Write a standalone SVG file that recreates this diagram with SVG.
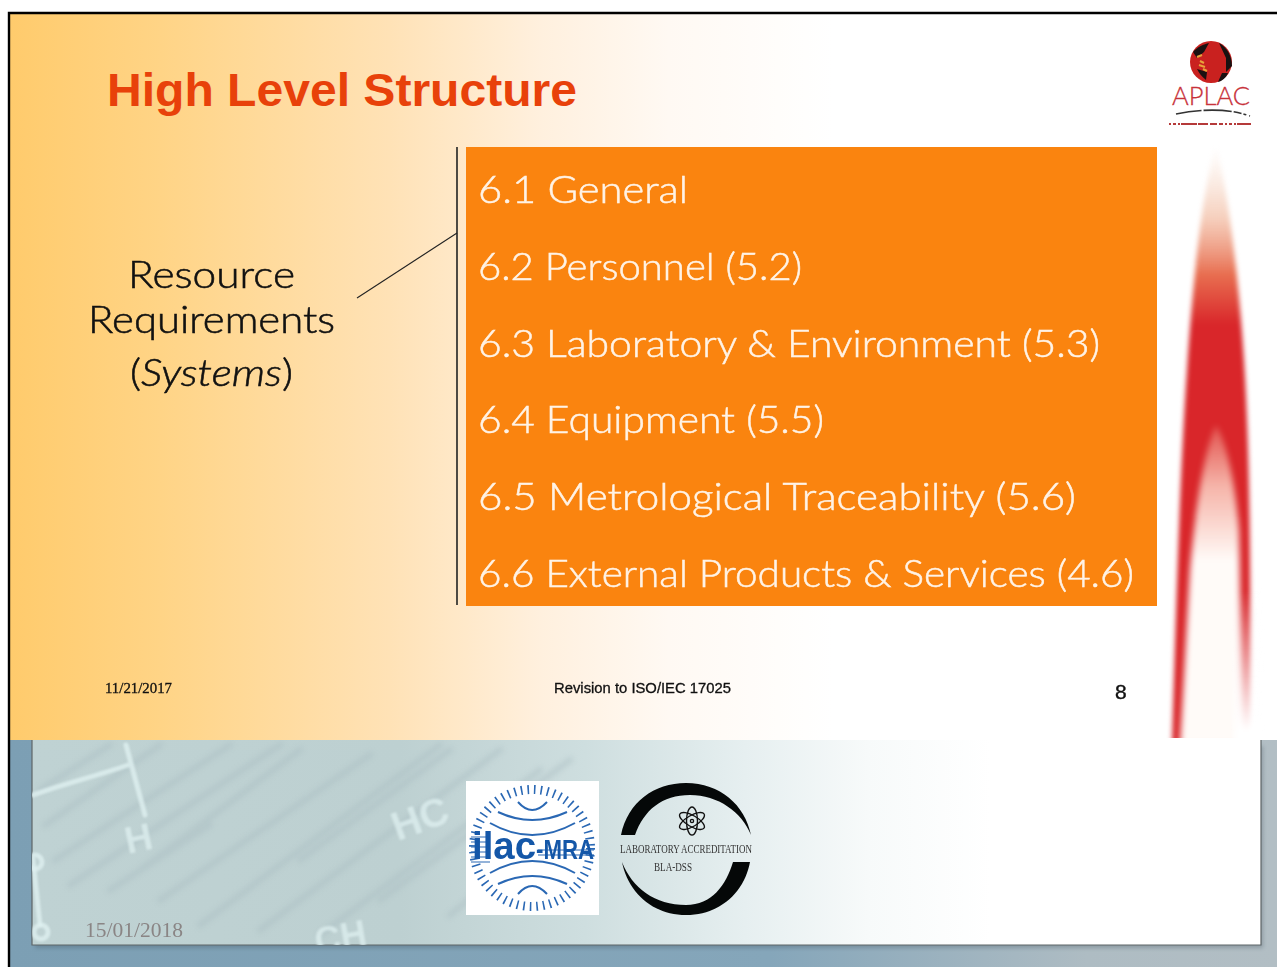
<svg xmlns="http://www.w3.org/2000/svg" width="1277" height="967" viewBox="0 0 1277 967">
<style>
.body{font-family:"Lato","Liberation Sans",sans-serif;font-weight:300;font-size:37px;fill:#FFF3E6;stroke:#FFF3E6;stroke-width:.5}
.side{font-family:"Lato","Liberation Sans",sans-serif;font-weight:300;font-size:37px;fill:#111;stroke:#111;stroke-width:.55}
.foot{font-family:"Liberation Sans",sans-serif;font-size:14px;fill:#111;stroke:#111;stroke-width:.3}
.chem{fill:none;stroke:#dff0f0;stroke-width:5;stroke-linecap:round;opacity:.8}
.chemt{font-family:"Liberation Sans",sans-serif;font-weight:700;fill:#dff0f0;opacity:.75}
.streak{stroke:#a9bdc2;stroke-width:6;opacity:.42;fill:none;stroke-linecap:round}
.band{fill:none;stroke:#2a68b4;stroke-width:2}
.serif{font-family:"Liberation Serif",serif}
filter{color-interpolation-filters:sRGB}
</style>
<defs>
<linearGradient id="slide" x1="0" x2="1" y1="0" y2="0">
<stop offset="0" stop-color="#FFCB6C"/><stop offset=".12" stop-color="#FFD486"/><stop offset=".3" stop-color="#FFE2B6"/><stop offset=".42" stop-color="#FFF0DE"/><stop offset=".52" stop-color="#FFF9F3"/><stop offset=".65" stop-color="#fff"/>
</linearGradient>
<linearGradient id="outer" x1="0" x2="1" y1="0" y2="0">
<stop offset="0" stop-color="#7C9FB4"/><stop offset=".6" stop-color="#85A6BA"/><stop offset=".85" stop-color="#AEBCC3"/><stop offset="1" stop-color="#B2BEC4"/>
</linearGradient>
<linearGradient id="panel" x1="32" x2="1261" y1="0" y2="0" gradientUnits="userSpaceOnUse">
<stop offset="0" stop-color="#BFD2D3"/><stop offset=".3" stop-color="#BDD0D1"/><stop offset=".45" stop-color="#CEDEDF"/><stop offset=".58" stop-color="#E6EFF0"/><stop offset=".68" stop-color="#F7FAFA"/><stop offset=".78" stop-color="#fff"/>
</linearGradient>
<linearGradient id="flame" gradientUnits="userSpaceOnUse" x1="0" x2="0" y1="145" y2="325">
<stop offset="0" stop-color="#F5D8C4" stop-opacity="0"/><stop offset=".4" stop-color="#F2BCA2" stop-opacity=".7"/><stop offset=".72" stop-color="#E86E50"/><stop offset="1" stop-color="#D9262A"/>
</linearGradient>
<linearGradient id="hollow" gradientUnits="userSpaceOnUse" x1="0" x2="0" y1="425" y2="560">
<stop offset="0" stop-color="#FFD8C0" stop-opacity=".25"/><stop offset=".45" stop-color="#FFE4D4" stop-opacity=".75"/><stop offset="1" stop-color="#FFFBF8"/>
</linearGradient>
<linearGradient id="fade" gradientUnits="userSpaceOnUse" x1="0" x2="0" y1="590" y2="730">
<stop offset="0" stop-color="#fff" stop-opacity="0"/><stop offset="1" stop-color="#fff"/>
</linearGradient>
<filter id="b2" x="-20%" y="-20%" width="140%" height="140%"><feGaussianBlur stdDeviation="2.5"/></filter>
<filter id="b3" x="-20%" y="-20%" width="140%" height="140%"><feGaussianBlur stdDeviation="3"/></filter>
<filter id="b1" x="-20%" y="-20%" width="140%" height="140%"><feGaussianBlur stdDeviation="1"/></filter>
<filter id="b0" x="-20%" y="-20%" width="140%" height="140%"><feGaussianBlur stdDeviation=".5"/></filter>
<filter id="s" x="-10%" y="-10%" width="120%" height="120%"><feGaussianBlur stdDeviation="2"/></filter>
<clipPath id="pc"><rect x="32" y="740" width="1229" height="205"/></clipPath>
<clipPath id="flamec"><rect x="1150" y="130" width="127" height="608"/></clipPath>
</defs>

<rect width="1277" height="967" fill="#fff"/>

<g id="lower-background">
<rect x="8" y="738" width="1269" height="229" fill="url(#outer)"/>
<rect x="35" y="746" width="1228" height="202" fill="#3a4a55" opacity=".3" filter="url(#s)"/>
<rect x="32" y="740" width="1229" height="205" fill="url(#panel)"/>
<path d="M32 740 V945 H1261 V740" fill="none" stroke="#5f6668" stroke-width="1.2"/>
<g clip-path="url(#pc)">
<g filter="url(#b2)">
<path class="streak" d="M40 790 L110 745M45 825 L160 745M55 860 L230 745M70 885 L280 745M110 890 L210 825M160 900 L370 755M200 925 L440 745M260 930 L500 750M320 935 L540 770M140 870 L300 750M380 900 L570 760M450 915 L590 800M300 860 L450 750"/>
</g>
<g filter="url(#b1)">
<path class="chem" d="M33 795 C60 785 100 775 128 765M126 745 L145 815M33 860 L40 925"/>
<circle cx="35" cy="862" r="7" class="chem"/>
<circle cx="41" cy="932" r="7" class="chem"/>
<text class="chemt" x="124" y="851" font-size="38" transform="rotate(-12 140 835)">H</text>
<text class="chemt" x="390" y="832" font-size="40" transform="rotate(-20 420 815)">HC</text>
<text class="chemt" x="315" y="950" font-size="36" transform="rotate(-10 340 940)">CH</text>
</g>
<text class="serif" x="85" y="937" font-size="21.5" fill="#8a8585" textLength="98" lengthAdjust="spacingAndGlyphs">15/01/2018</text>
</g>
</g>

<g id="slide-panel">
<rect x="9" y="13" width="1268" height="727" fill="url(#slide)"/>
<path d="M9 967 V13 H1277" fill="none" stroke="#000" stroke-width="2.4"/>
</g>

<g id="title">
<text x="107" y="106" font-family="Liberation Sans, sans-serif" font-weight="700" font-size="47" fill="#E8410A" textLength="470" lengthAdjust="spacingAndGlyphs">High Level Structure</text>
</g>

<g id="aplac-logo">
<g filter="url(#b0)">
<circle cx="1211" cy="62" r="21" fill="#C9211F"/>
<path d="M1193 52 C1197 47 1204 44 1209 43 L1204 52 L1197 58Z" fill="#1a1111"/>
<path d="M1219 43 C1227 47 1232 56 1232 66 L1226 72 L1226 58 Z" fill="#1a1111"/>
<path d="M1197 69 L1207 72 L1206 80 C1202 77 1199 73 1197 69Z" fill="#1a1111"/>
<path d="M1222 73 L1228 73 C1226 78 1222 81 1218 82Z" fill="#1a1111"/>
<path d="M1197 57 L1202 55 M1200 61 L1204 63 M1199 65 L1205 67 M1203 69 L1207 71" stroke="#E8A33A" stroke-width="2" fill="none"/>
<path d="M1176 114 C1195 110 1225 107 1250 116" fill="none" stroke="#333" stroke-width="1.6" stroke-dasharray="26 2 28 2 8 2 3 3"/>
<path d="M1169 124 H1251" fill="none" stroke="#B53A3A" stroke-width="2.2" stroke-dasharray="2 2 3 2 2 1 16 1 10 2 7 2 4 2"/>
</g>
<text x="1211" y="105" text-anchor="middle" font-family="Lato, Liberation Sans, sans-serif" font-weight="300" font-size="26" fill="#C8323A" stroke="#C8323A" stroke-width=".3" textLength="78" lengthAdjust="spacingAndGlyphs">APLAC</text>
</g>

<g id="flame-decoration" clip-path="url(#flamec)">
<path filter="url(#b2)" fill="url(#flame)" d="M1216 145 C1202 190 1193 280 1187 370 C1180 470 1176 610 1172 745 L1250 745 C1251 610 1250 490 1247 420 C1244 330 1232 205 1216 145Z"/>
<path filter="url(#b3)" fill="url(#hollow)" d="M1216 425 C1204 450 1195 510 1190 570 C1186 640 1183 700 1180 745 L1243 745 C1241 680 1240 590 1239 530 C1236 490 1228 445 1216 425Z"/>
<path fill="url(#fade)" filter="url(#b2)" d="M1234 590 H1262 V745 H1234Z"/>
</g>

<g id="content-box">
<rect x="466" y="147" width="691" height="459" fill="#FA840F"/>
<text class="body" x="478" y="203" textLength="210" lengthAdjust="spacingAndGlyphs">6.1 General</text>
<text class="body" x="478" y="280" textLength="324" lengthAdjust="spacingAndGlyphs">6.2 Personnel (5.2)</text>
<text class="body" x="478" y="357" textLength="622" lengthAdjust="spacingAndGlyphs">6.3 Laboratory &amp; Environment (5.3)</text>
<text class="body" x="478" y="433" textLength="346" lengthAdjust="spacingAndGlyphs">6.4 Equipment (5.5)</text>
<text class="body" x="478" y="510" textLength="598" lengthAdjust="spacingAndGlyphs">6.5 Metrological Traceability (5.6)</text>
<text class="body" x="478" y="587" textLength="656" lengthAdjust="spacingAndGlyphs">6.6 External Products &amp; Services (4.6)</text>
</g>

<g id="side-label">
<text class="side" x="128" y="288" textLength="167" lengthAdjust="spacingAndGlyphs">Resource</text>
<text class="side" x="88" y="333" textLength="247" lengthAdjust="spacingAndGlyphs">Requirements</text>
<text class="side" x="130" y="386" textLength="163" lengthAdjust="spacingAndGlyphs">(<tspan font-style="italic">Systems</tspan>)</text>
</g>

<g id="connectors" fill="none" stroke="#222">
<path d="M457 147 V605" stroke-width="1.6"/>
<path d="M357 298 L457 233" stroke-width="1.1"/>
</g>

<g id="footer">
<text class="foot" x="105" y="693" textLength="67" lengthAdjust="spacingAndGlyphs" style="font-family:'Liberation Serif',serif">11/21/2017</text>
<text class="foot" x="554" y="693" textLength="177" lengthAdjust="spacingAndGlyphs">Revision to ISO/IEC 17025</text>
<text x="1115" y="699" font-family="Liberation Sans, sans-serif" font-size="21" fill="#111" stroke="#111" stroke-width=".4">8</text>
</g>

<g id="ilac-logo">
<rect x="466" y="781" width="133" height="134" fill="#fff"/>
<circle cx="532" cy="848" r="58.5" fill="none" stroke="#2a68b4" stroke-width="9" stroke-dasharray="1.6 5"/>
<path class="band" d="M518 802 Q532 818 547 802M498 812 Q532 828 567 812M490 823 Q532 847 575 823M518 894 Q532 878 547 894M498 884 Q532 868 567 884M490 873 Q532 849 575 873"/>
<path d="M471 837 H490M471 842 H490M471 847 H490M471 852 H490M471 857 H490M471 862 H490M538 850 H594M538 855 H594" stroke="#2a68b4" stroke-width="1.2"/>
<text x="472" y="859" font-family="Liberation Sans, sans-serif" font-weight="700" font-size="38" fill="#1457A8" textLength="64" lengthAdjust="spacingAndGlyphs">ilac</text>
<text x="536" y="859" font-family="Liberation Sans, sans-serif" font-weight="700" font-size="27" fill="#1457A8" textLength="58" lengthAdjust="spacingAndGlyphs">-MRA</text>
</g>

<g id="accreditation-logo">
<path d="M621 835 C628 802 654 783 686 783 C720 783 745 805 751 835 C742 812 718 795 690 795 C662 795 644 810 635 835Z" fill="#050808"/>
<path d="M622 862 C628 892 652 915 686 915 C722 915 745 890 750 862 L733 862 C726 885 712 905 686 905 C655 905 632 888 622 862Z" fill="#050808"/>
<g fill="none" stroke="#111" stroke-width="1.4">
<ellipse cx="692" cy="821" rx="14" ry="5.5" transform="rotate(90 692 821)"/>
<ellipse cx="692" cy="821" rx="14" ry="5.5" transform="rotate(30 692 821)"/>
<ellipse cx="692" cy="821" rx="14" ry="5.5" transform="rotate(-30 692 821)"/>
<circle cx="692" cy="821" r="1.6"/>
</g>
<text class="serif" x="620" y="853" font-size="13" fill="#333" textLength="132" lengthAdjust="spacingAndGlyphs">LABORATORY ACCREDITATION</text>
<text class="serif" x="654" y="871" font-size="12" fill="#333" textLength="38" lengthAdjust="spacingAndGlyphs">BLA-DSS</text>
</g>
</svg>
